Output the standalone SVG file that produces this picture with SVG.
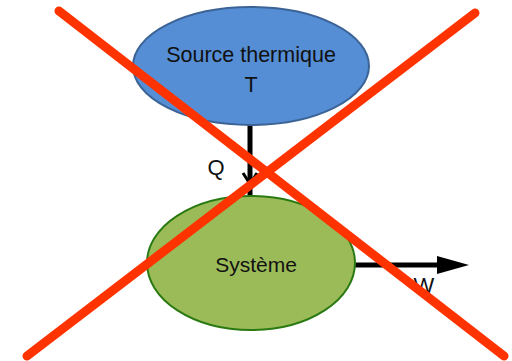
<svg xmlns="http://www.w3.org/2000/svg" width="512" height="361" viewBox="0 0 512 361">
  <style>
    .label { font-family: "Liberation Sans", Arial, sans-serif; fill: #111; text-anchor: middle; }
    .flow { stroke: #000; stroke-width: 5; fill: none; }
    .cross { stroke: #ff3300; stroke-width: 9; stroke-linecap: round; }
  </style>
  <rect width="512" height="361" fill="#fff"/>

  <g id="connectors">
    <line class="flow" x1="250" y1="124" x2="250" y2="200"/>
    <path d="M243,173 L250,184 L257,173" fill="none" stroke="#000" stroke-width="3"/>
    <line class="flow" x1="355" y1="265" x2="440" y2="265"/>
    <path d="M437,256 L469,265 L437,274 z" fill="#000"/>
  </g>

  <g id="source">
    <ellipse cx="251" cy="66" rx="118" ry="59" fill="#558ed5" stroke="#3b6396" stroke-width="2"/>
    <text class="label" x="251" y="62" font-size="21.5">Source thermique</text>
    <text class="label" x="251" y="92" font-size="21.5">T</text>
  </g>

  <g id="systeme">
    <ellipse cx="251" cy="263" rx="104" ry="67" fill="#9bbb59" stroke="#2a7a12" stroke-width="2"/>
    <text class="label" x="256" y="272" font-size="21">Système</text>
  </g>

  <g id="labels">
    <text class="label" x="216" y="175" font-size="22">Q</text>
    <text class="label" x="424" y="293" font-size="22">W</text>
  </g>

  <g id="cross">
    <line class="cross" x1="59" y1="11" x2="504" y2="356"/>
    <line class="cross" x1="475" y1="13" x2="27" y2="356"/>
  </g>
</svg>
